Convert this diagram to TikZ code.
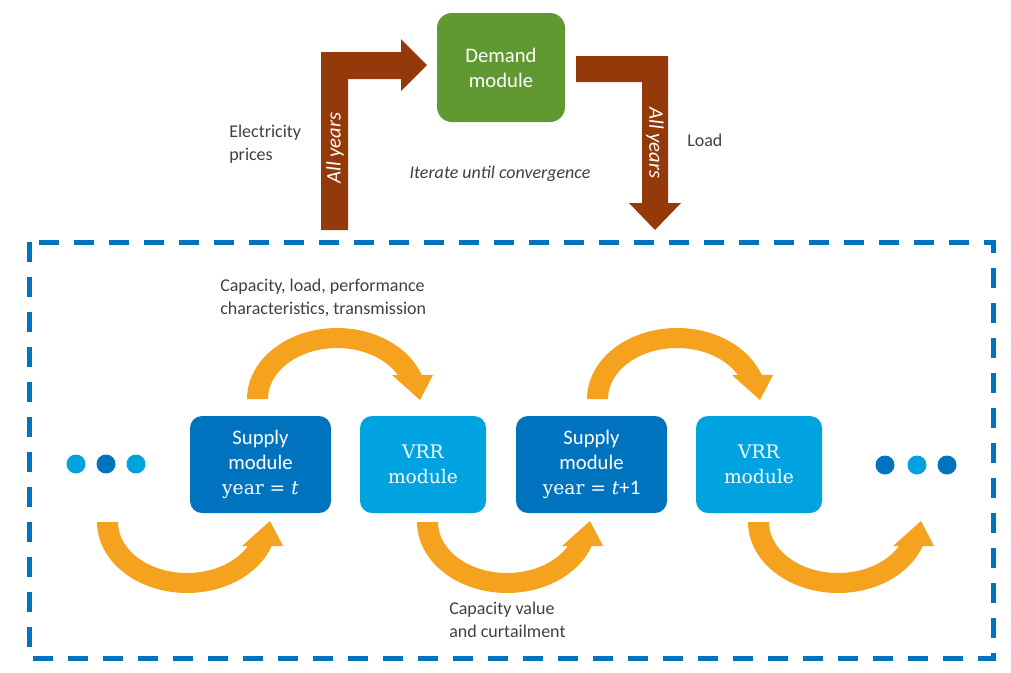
\documentclass[tikz,border=0pt]{standalone}
\usepackage[no-math]{fontspec}
\setmainfont{Carlito}
\newfontfamily\serifdv{DejaVu Serif}
\newlength\pxu \setlength\pxu{0.75pt}
\definecolor{brownA}{RGB}{148,58,10}
\definecolor{greenA}{RGB}{96,152,50}
\definecolor{blueD}{RGB}{0,115,190}
\definecolor{blueL}{RGB}{0,163,224}
\definecolor{orangeA}{RGB}{245,162,30}
\definecolor{txtgray}{RGB}{64,64,64}
\newcommand\orarrowshape{%
  \fill[orangeA] plot[domain=180:340.2,samples=50] ({90*cos(\x)},{71*sin(\x)})
    -- (96,-24) -- (83,1) -- (55,-24) -- (60.9,-24)
    -- plot[domain=331.93:180,samples=50] ({69*cos(\x)},{51*sin(\x)}) -- cycle;}
\newcommand\yeareq[1]{{\serifdv\fontsize{14}{18.75}\selectfont year = \textit{t}}#1}
\tikzset{
  modbox/.style={rounded corners=12\pxu, inner sep=0pt, text=white, align=center,
    minimum height=97\pxu, font=\fontsize{15.5}{18.75}\selectfont},
  vrrbox/.style={modbox, fill=blueL, minimum width=126\pxu, font=\serifdv\fontsize{14}{18.75}\selectfont},
  supbox/.style={modbox, fill=blueD},
  lbl/.style={text=txtgray, inner sep=0pt, align=left, font=\fontsize{13.5}{17.25}\selectfont},
  yrs/.style={text=white, inner sep=0pt, font=\itshape\fontsize{15.5}{18}\selectfont},
  dotL/.style={circle, fill=blueL, minimum size=19\pxu, inner sep=0pt},
  dotD/.style={circle, fill=blueD, minimum size=19\pxu, inner sep=0pt},
}
\begin{document}
\begin{tikzpicture}[x=0.75pt,y=-0.75pt]
\useasboundingbox (0,0) rectangle (1011,672);
% frame
\draw[blueD, line width=5\pxu, dash pattern=on 20\pxu off 15\pxu] (29,242) rectangle (993,658);
% demand
\node[modbox, fill=greenA, rounded corners=15\pxu, minimum width=128\pxu, minimum height=109\pxu] (dem) at (501,67.5) {Demand\\module};
% brown arrows
\fill[brownA] (321,230) -- (321,52) -- (401,52) -- (401,39) -- (427,65) -- (401,91) -- (401,79) -- (348,79) -- (348,230) -- cycle;
\fill[brownA] (576,56) -- (668,56) -- (668,203) -- (681,203) -- (655,230) -- (629,203) -- (642,203) -- (642,82) -- (576,82) -- cycle;
\node[yrs, rotate=90] (ay1) at (335,148) {All years};
\node[yrs, rotate=-90] (ay2) at (655,143) {All years};
\node[lbl, anchor=west] (elp) at (229,144) {Electricity\\prices};
\node[lbl, anchor=west] (load) at (687,140) {Load};
\node[lbl, font=\itshape\fontsize{13.5}{17.25}\selectfont] (iter) at (500,174) {Iterate until convergence};
% modules
\node[supbox, minimum width=141\pxu] (sup1) at (260.5,464.5) {Supply\\module\\\yeareq{}};
\node[vrrbox] (vrr1) at (423,464.5) {VRR\\module};
\node[supbox, minimum width=151\pxu] (sup2) at (591.5,464.5) {Supply\\module\\\yeareq{+1}};
\node[vrrbox] (vrr2) at (759,464.5) {VRR\\module};
% dots
\node[dotL] (l1) at (76,464) {};
\node[dotD] (l2) at (106,464) {};
\node[dotL] (l3) at (136,464) {};
\node[dotD] (r1) at (885,465) {};
\node[dotL] (r2) at (917,465) {};
\node[dotD] (r3) at (947,465) {};
% orange curved arrows
\begin{scope}[shift={(337,399)}]\orarrowshape\end{scope}
\begin{scope}[shift={(677,399)}]\orarrowshape\end{scope}
\begin{scope}[shift={(187,522)},yscale=-1]\orarrowshape\end{scope}
\begin{scope}[shift={(507,522)},yscale=-1]\orarrowshape\end{scope}
\begin{scope}[shift={(838,522)},yscale=-1]\orarrowshape\end{scope}
% labels
\node[lbl, anchor=west] (cap1) at (220,298) {Capacity, load, performance\\characteristics, transmission};
\node[lbl, anchor=west] (cap2) at (449,619.5) {Capacity value\\and curtailment};
\end{tikzpicture}
\end{document}
